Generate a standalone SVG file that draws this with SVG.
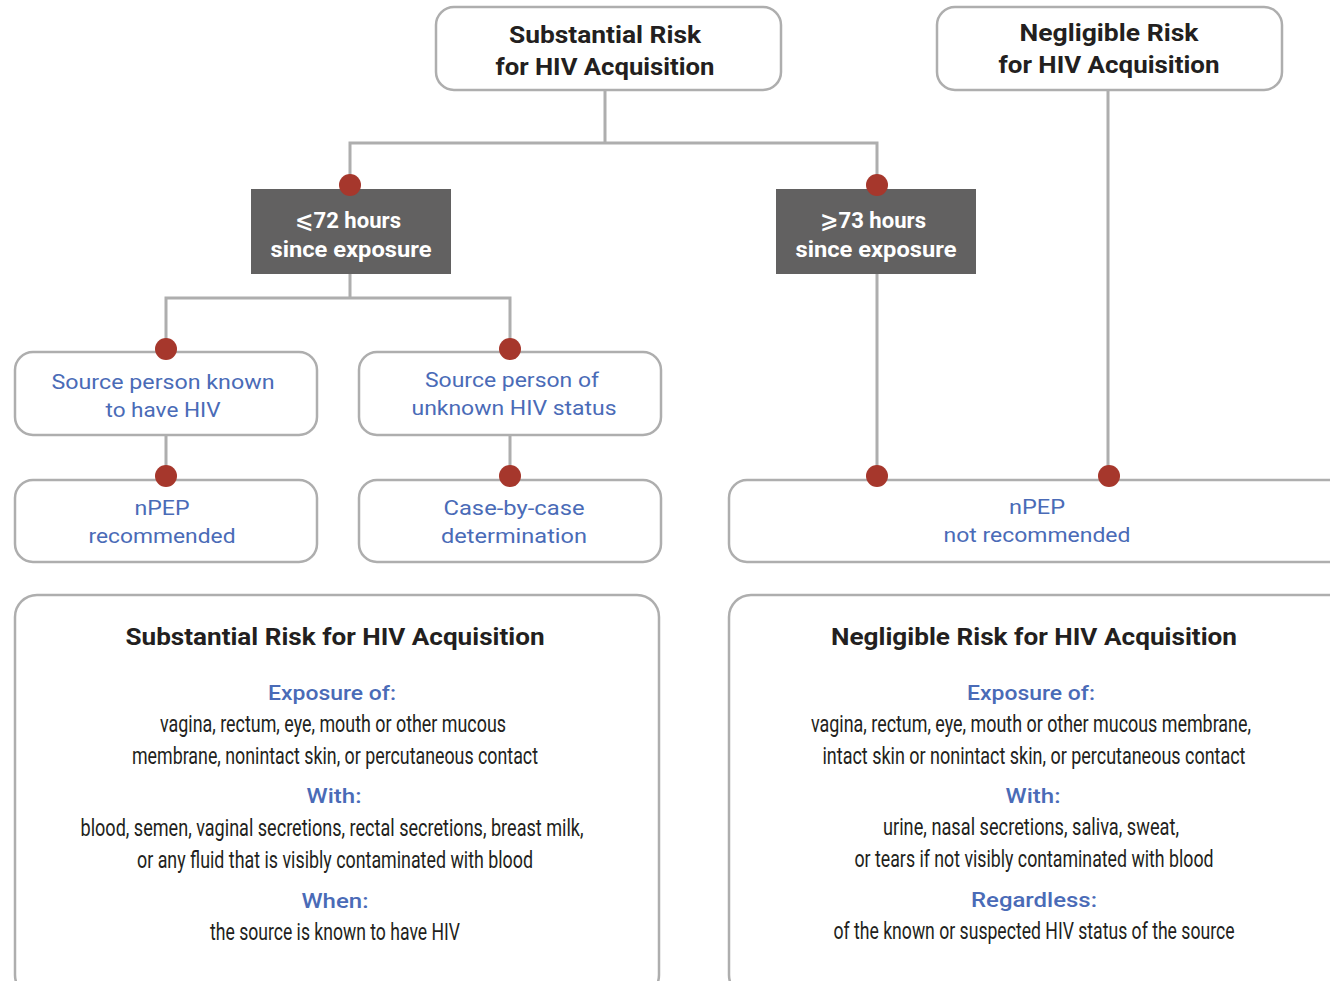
<svg xmlns="http://www.w3.org/2000/svg" width="1330" height="981" viewBox="0 0 1330 981">
<style>
.box{fill:#fff;stroke:#aeaeae;stroke-width:2.5}
.dark{fill:#626161}
.conn{fill:none;stroke:#aeaeae;stroke-width:3}
.dot{fill:#a6372c}
.h{font-family:Roboto,"DejaVu Sans",sans-serif;font-weight:bold;font-size:24px;fill:#231f20;text-anchor:middle}
.w{font-family:Roboto,"DejaVu Sans",sans-serif;font-weight:bold;font-size:22px;fill:#fff;text-anchor:middle}
.b{font-family:Roboto,"DejaVu Sans",sans-serif;font-size:21px;fill:#4a6bb7;text-anchor:middle}
.bh{font-family:Roboto,"DejaVu Sans",sans-serif;font-weight:500;font-size:21px;fill:#4a6bb7;text-anchor:middle}
.t{font-family:Roboto,"DejaVu Sans",sans-serif;font-size:23px;fill:#231f20;text-anchor:middle}
</style>
<rect width="1330" height="981" fill="#fff"/>
<g id="connectors">
<path class="conn" d="M605 90V143M350 185V143H877V185"/>
<path class="conn" d="M350 274V298H166V349M350 298H510V349"/>
<path class="conn" d="M166 435V476M510 435V476"/>
<path class="conn" d="M877 274V476M1108 90V476"/>
</g>
<g id="n-substantial">
<rect class="box" x="436" y="7" width="345" height="83" rx="18"/>
<text class="h" x="605" y="43" textLength="192" lengthAdjust="spacingAndGlyphs">Substantial Risk</text>
<text class="h" x="605" y="75" textLength="219" lengthAdjust="spacingAndGlyphs">for HIV Acquisition</text>
</g>
<g id="n-negligible">
<rect class="box" x="937" y="7" width="345" height="83" rx="18"/>
<text class="h" x="1109" y="41" textLength="179" lengthAdjust="spacingAndGlyphs">Negligible Risk</text>
<text class="h" x="1109" y="73" textLength="221" lengthAdjust="spacingAndGlyphs">for HIV Acquisition</text>
</g>
<g id="n-le72">
<rect class="dark" x="251" y="189" width="200" height="85"/>
<text class="w" x="348" y="228" textLength="106" lengthAdjust="spacingAndGlyphs">⩽72 hours</text>
<text class="w" x="351" y="257" textLength="161" lengthAdjust="spacingAndGlyphs">since exposure</text>
</g>
<g id="n-ge73">
<rect class="dark" x="776" y="189" width="200" height="85"/>
<text class="w" x="873" y="228" textLength="106" lengthAdjust="spacingAndGlyphs">⩾73 hours</text>
<text class="w" x="876" y="257" textLength="161" lengthAdjust="spacingAndGlyphs">since exposure</text>
</g>
<g id="n-known">
<rect class="box" x="15" y="352" width="302" height="83" rx="18"/>
<text class="b" x="163" y="389" textLength="223" lengthAdjust="spacingAndGlyphs">Source person known</text>
<text class="b" x="163" y="417" textLength="115" lengthAdjust="spacingAndGlyphs">to have HIV</text>
</g>
<g id="n-unknown">
<rect class="box" x="359" y="352" width="302" height="83" rx="18"/>
<text class="b" x="512" y="387" textLength="174" lengthAdjust="spacingAndGlyphs">Source person of</text>
<text class="b" x="514" y="415" textLength="205" lengthAdjust="spacingAndGlyphs">unknown HIV status</text>
</g>
<g id="n-recommended">
<rect class="box" x="15" y="480" width="302" height="82" rx="18"/>
<text class="b" x="162" y="515" textLength="55" lengthAdjust="spacingAndGlyphs">nPEP</text>
<text class="b" x="162" y="543" textLength="147" lengthAdjust="spacingAndGlyphs">recommended</text>
</g>
<g id="n-casebycase">
<rect class="box" x="359" y="480" width="302" height="82" rx="18"/>
<text class="b" x="514" y="515" textLength="141" lengthAdjust="spacingAndGlyphs">Case-by-case</text>
<text class="b" x="514" y="543" textLength="146" lengthAdjust="spacingAndGlyphs">determination</text>
</g>
<g id="n-notrecommended">
<rect class="box" x="729" y="480" width="630" height="82" rx="18"/>
<text class="b" x="1037" y="514" textLength="56" lengthAdjust="spacingAndGlyphs">nPEP</text>
<text class="b" x="1037" y="542" textLength="187" lengthAdjust="spacingAndGlyphs">not recommended</text>
</g>
<g id="dots">
<circle class="dot" cx="350" cy="185" r="11"/>
<circle class="dot" cx="877" cy="185" r="11"/>
<circle class="dot" cx="166" cy="349" r="11"/>
<circle class="dot" cx="510" cy="349" r="11"/>
<circle class="dot" cx="166" cy="476" r="11"/>
<circle class="dot" cx="510" cy="476" r="11"/>
<circle class="dot" cx="877" cy="476" r="11"/>
<circle class="dot" cx="1109" cy="476" r="11"/>
</g>
<g id="n-def-substantial">
<rect class="box" x="15" y="595" width="644" height="402" rx="22"/>
<text class="h" x="335" y="645" textLength="419" lengthAdjust="spacingAndGlyphs">Substantial Risk for HIV Acquisition</text>
<text class="bh" x="332" y="700" textLength="128" lengthAdjust="spacingAndGlyphs">Exposure of:</text>
<text class="t" x="333" y="732" textLength="346" lengthAdjust="spacingAndGlyphs">vagina, rectum, eye, mouth or other mucous</text>
<text class="t" x="335" y="764" textLength="406" lengthAdjust="spacingAndGlyphs">membrane, nonintact skin, or percutaneous contact</text>
<text class="bh" x="334" y="803" textLength="55" lengthAdjust="spacingAndGlyphs">With:</text>
<text class="t" x="332" y="836" textLength="503" lengthAdjust="spacingAndGlyphs">blood, semen, vaginal secretions, rectal secretions, breast milk,</text>
<text class="t" x="335" y="868" textLength="396" lengthAdjust="spacingAndGlyphs">or any fluid that is visibly contaminated with blood</text>
<text class="bh" x="335" y="908" textLength="67" lengthAdjust="spacingAndGlyphs">When:</text>
<text class="t" x="335" y="940" textLength="250" lengthAdjust="spacingAndGlyphs">the source is known to have HIV</text>
</g>
<g id="n-def-negligible">
<rect class="box" x="729" y="595" width="630" height="402" rx="22"/>
<text class="h" x="1034" y="645" textLength="406" lengthAdjust="spacingAndGlyphs">Negligible Risk for HIV Acquisition</text>
<text class="bh" x="1031" y="700" textLength="128" lengthAdjust="spacingAndGlyphs">Exposure of:</text>
<text class="t" x="1031" y="732" textLength="440" lengthAdjust="spacingAndGlyphs">vagina, rectum, eye, mouth or other mucous membrane,</text>
<text class="t" x="1034" y="764" textLength="423" lengthAdjust="spacingAndGlyphs">intact skin or nonintact skin, or percutaneous contact</text>
<text class="bh" x="1033" y="803" textLength="55" lengthAdjust="spacingAndGlyphs">With:</text>
<text class="t" x="1031" y="835" textLength="296" lengthAdjust="spacingAndGlyphs">urine, nasal secretions, saliva, sweat,</text>
<text class="t" x="1034" y="867" textLength="359" lengthAdjust="spacingAndGlyphs">or tears if not visibly contaminated with blood</text>
<text class="bh" x="1034" y="907" textLength="126" lengthAdjust="spacingAndGlyphs">Regardless:</text>
<text class="t" x="1034" y="939" textLength="401" lengthAdjust="spacingAndGlyphs">of the known or suspected HIV status of the source</text>
</g>
</svg>
